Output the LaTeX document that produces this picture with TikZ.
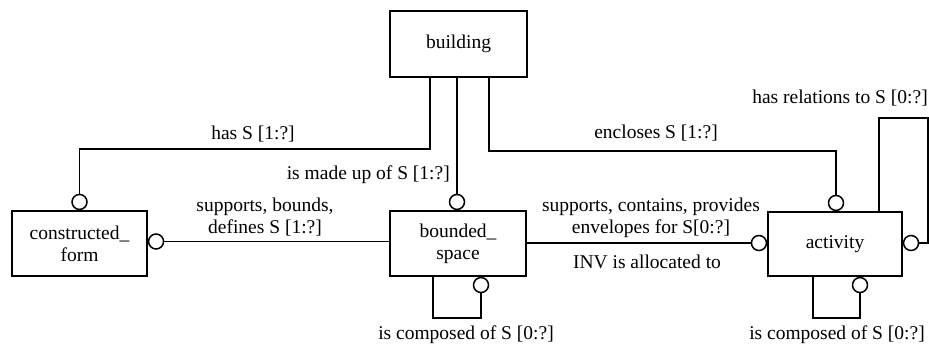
\documentclass[tikz,border=0pt]{standalone}
\usepackage{fontspec}
\setmainfont{Liberation Serif}
\begin{document}
\begin{tikzpicture}[x=1pt,y=-1pt,
  every node/.style={font=\fontsize{19.5}{22}\selectfont},
  entity/.style={draw, line width=1.6pt, rectangle, align=center, inner sep=0pt},
  optend/.style={draw, line width=1.5pt, circle, fill=white, minimum size=15pt, inner sep=0pt},
  rel/.style={line width=1.5pt},
  lbl/.style={inner sep=0pt, align=center}]
\useasboundingbox (0,0) rectangle (929,347);

% entities
\node[entity, minimum width=137pt, minimum height=66pt] (building) at (458.5,44) {building};
\node[entity, minimum width=135pt, minimum height=65pt] (cform) at (79.5,243.5) {constructed\_\\form};
\node[entity, minimum width=136pt, minimum height=65pt] (bspace) at (458,243.5) {bounded\_\\space};
\node[entity, minimum width=134pt, minimum height=64pt] (activity) at (835,244) {activity};

% optional-end circles
\node[optend, anchor=south] (c1) at (cform.north) {};
\node[optend, anchor=south] (c2) at ([xshift=-1pt]bspace.north) {};
\node[optend, anchor=south] (c3) at ([xshift=1pt]activity.north) {};
\node[optend, anchor=west] (c4) at ([yshift=2pt]cform.east) {};
\node[optend, anchor=east] (c5) at ([yshift=1pt]activity.west) {};
\node[optend, anchor=west] (c6) at ([yshift=1pt]activity.east) {};
\node[optend, anchor=north] (c7) at ([xshift=23pt]bspace.south) {};
\node[optend, anchor=north] (c8) at ([xshift=25pt]activity.south) {};

% relationships
\draw[rel] ([xshift=-28.5pt]building.south) -- ++(0,71) -| (c1.north);
\draw[rel] (c2.north) -- (c2.north |- building.south);
\draw[rel] ([xshift=30.5pt]building.south) -- ++(0,73) -| (c3.north);
\draw[rel] (c4.east) -- (bspace.west |- c4);
\draw[rel] (bspace.east |- c5) -- (c5.west);
\draw[rel] ([xshift=44pt]activity.north) |- ++(49,-93) |- (c6.east);
\draw[rel] ([xshift=-25pt]bspace.south) -- ++(0,41) -| (c7.south);
\draw[rel] ([xshift=-22pt]activity.south) -- ++(0,41) -| (c8.south);

% labels
\node[lbl] (l1) at (253,134) {has S [1:?]};
\node[lbl, anchor=east] (l2) at (450,175) {is made up of S [1:?]};
\node[lbl] (l3) at (265,217) {supports, bounds,\\defines S [1:?]};
\node[lbl] (l4) at (656,133) {encloses S [1:?]};
\node[lbl] (l5) at (840,98) {has relations to S [0:?]};
\node[lbl] (l6) at (651,218) {supports, contains, provides\\envelopes for S[0:?]};
\node[lbl] (l7) at (647,262) {INV is allocated to};
\node[lbl] (l8) at (466,335) {is composed of S [0:?]};
\node[lbl] (l9) at (837,335) {is composed of S [0:?]};
\end{tikzpicture}
\end{document}
